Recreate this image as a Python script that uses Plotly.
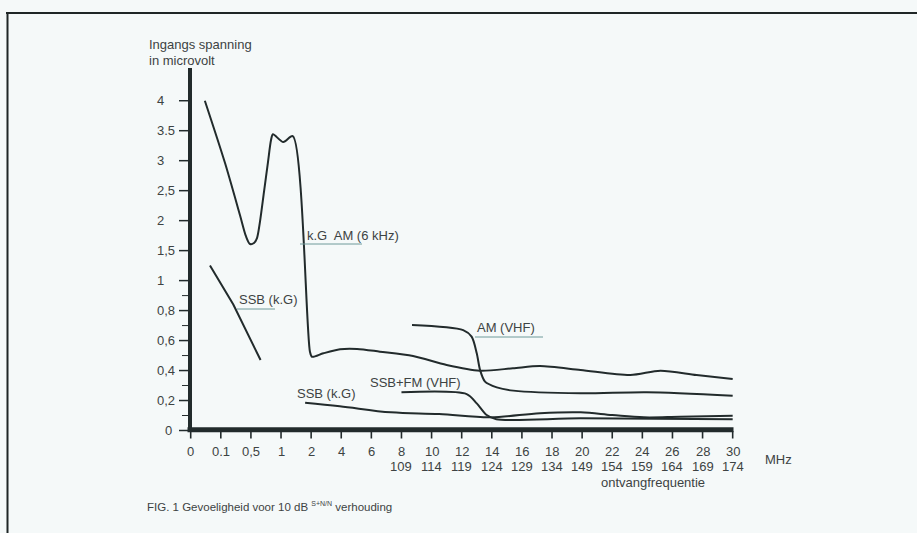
import numpy as np
import plotly.graph_objects as go

W, H = 917, 533

# ---- axis ticks: frequency (MHz) along the bottom, input voltage (microvolt) up the side
x_tick_mhz = [0, 0.1, 0.5, 1, 2, 4, 6, 8, 10, 12, 14, 16, 18, 20, 22, 24, 26, 28, 30]
x_tick_text = ["0", "0.1", "0,5", "1", "2", "4", "6", "8", "10", "12", "14", "16",
               "18", "20", "22", "24", "26", "28", "30"]
# VHF scale printed under the ticks 8 ... 30
vhf_tick_text = ["109", "114", "119", "124", "129", "134", "149", "154", "159", "164", "169", "174"]
y_tick_uv = [0, 0.2, 0.4, 0.6, 0.8, 1, 1.5, 2, 2.5, 3, 3.5, 4]
y_tick_text = ["0", "0,2", "0,4", "0,6", "0,8", "1", "1,5", "2", "2,5", "3", "3.5", "4"]
y_minor_uv = [0.1, 0.3, 0.5, 0.7, 0.9]

# ---- sensitivity curves (x in MHz on the HF scale, y in microvolt)
kg_am_mhz = [0.047, 0.156, 0.355, 0.434, 0.488, 0.551, 0.601, 0.65, 0.717, 0.784, 0.834, 0.866,
             1.075, 1.39, 1.96, 2.06, 2.81, 3.92, 5.05, 6.57, 8.77, 11.0, 13.2,
             15.4, 17.2, 19.9, 23.2, 25.2, 27.6, 30.0]
kg_am_uv = [4.0, 2.96, 2.09, 1.74, 1.61, 1.627, 1.71, 1.98, 2.48, 2.98, 3.345, 3.44,
            3.31, 3.41, 0.526, 0.492, 0.515, 0.542, 0.544, 0.526, 0.497, 0.437, 0.399,
            0.415, 0.43, 0.404, 0.370, 0.399, 0.370, 0.344]

ssb_lf_mhz = [0.064, 0.266, 0.66]
ssb_lf_uv = [1.25, 0.84, 0.47]

ssb_hf_mhz = [1.8, 3.9, 7.3, 10.5, 13.9, 17.2, 19.9, 22.0, 24.1, 26.5, 30.0]
ssb_hf_uv = [0.185, 0.162, 0.121, 0.110, 0.088, 0.115, 0.121, 0.103, 0.088, 0.092, 0.099]

am_vhf_mhz = [8.7, 12.1, 12.66, 13.0, 13.22, 13.55, 14.33, 15.43, 19.9, 24.3, 30.0]
am_vhf_uv = [0.704, 0.670, 0.626, 0.515, 0.404, 0.326, 0.288, 0.266, 0.248, 0.255, 0.232]

ssbfm_vhf_mhz = [8.0, 12.33, 13.0, 13.66, 14.3, 19.9, 30.0]
ssbfm_vhf_uv = [0.255, 0.243, 0.181, 0.103, 0.075, 0.081, 0.075]


# The printed scales are piecewise linear: every tick is one equal step.
def xpos(v):
    return np.interp(v, x_tick_mhz, np.arange(len(x_tick_mhz)))


def ypos(v):
    return np.interp(v, y_tick_uv, np.arange(len(y_tick_uv)))


# ---- page geometry (pixels)
PL, PR, PT, PB = 174, 738, 66, 442
X_STEP, Y_STEP = 30.11, 29.98
X0_PX, Y0_PX = 190.7, 430.5


def ix(px):      # pixel column -> axis step units
    return (px - X0_PX) / X_STEP


def iy(py):      # pixel row -> axis step units
    return (Y0_PX - py) / Y_STEP


x_range = [ix(PL), ix(PR)]
y_range = [iy(PB), iy(PT)]


def px_x(px):
    return (px - PL) / (PR - PL)


def px_y(py):
    return (PB - py) / (PB - PT)


INK = "#222b2c"
TXT = "#3d4343"
FONT = "Liberation Sans"
BG = "#f5f9f9"

fig = go.Figure()


def add_line(xs, ys, width=2, shape="linear", smooth=None):
    line = dict(color=INK, width=width, shape=shape)
    if smooth is not None:
        line["smoothing"] = smooth
    fig.add_trace(go.Scatter(x=xs, y=ys, mode="lines", line=line,
                             hoverinfo="skip", showlegend=False))


# ---- curves
add_line(xpos(kg_am_mhz), ypos(kg_am_uv), shape="spline", smooth=0.8)
add_line(xpos(ssb_lf_mhz), ypos(ssb_lf_uv))
add_line(xpos(ssb_hf_mhz), ypos(ssb_hf_uv), shape="spline", smooth=1.0)
add_line(xpos(am_vhf_mhz), ypos(am_vhf_uv), shape="spline", smooth=0.8)
add_line(xpos(ssbfm_vhf_mhz), ypos(ssbfm_vhf_uv), shape="spline", smooth=0.8)

shapes = []


def bar(x0, x1, y0, y1, xref="paper", yref="paper"):
    shapes.append(dict(type="rect", xref=xref, yref=yref, x0=x0, x1=x1, y0=y0, y1=y1,
                       fillcolor=INK, line=dict(width=0), layer="above"))


# ---- heavy axis rules and tick marks, drawn as filled bars
bar(px_x(187.5), px_x(733.5), px_y(432.3), px_y(427.3))      # frequency axis
bar(px_x(188), px_x(192), px_y(432), px_y(68))              # voltage axis
for i in range(len(x_tick_mhz)):
    bar(i - 0.8 / X_STEP, i + 0.8 / X_STEP, px_y(438.5), px_y(431), xref="x")
for v in y_tick_uv:
    yv = float(ypos(v))
    bar(px_x(179), px_x(188), yv - 0.75 / Y_STEP, yv + 0.75 / Y_STEP, yref="y")
for v in y_minor_uv:
    yv = float(ypos(v))
    bar(px_x(182), px_x(188), yv - 0.5 / Y_STEP, yv + 0.5 / Y_STEP, yref="y")

annotations = []

# y tick labels, set flush left as printed
for val, txt in zip(y_tick_uv, y_tick_text):
    py = Y0_PX - ypos(val) * Y_STEP
    if txt == "0":
        annotations.append(dict(x=px_x(174), y=px_y(py), text=txt, xanchor="right"))
    else:
        annotations.append(dict(x=px_x(155), y=px_y(py), text=txt, xanchor="left"))

# x tick labels: MHz row, then the VHF row under the ticks 8 ... 30
for i, txt in enumerate(x_tick_text):
    px = X0_PX + xpos(x_tick_mhz[i]) * X_STEP
    annotations.append(dict(x=px_x(px), y=px_y(451.5), text=txt, xanchor="center"))
for i, txt in enumerate(vhf_tick_text):
    px = X0_PX + xpos(x_tick_mhz[7 + i]) * X_STEP
    annotations.append(dict(x=px_x(px), y=px_y(466.5), text=txt, xanchor="center"))

# axis titles and caption
annotations += [
    dict(x=px_x(147), y=px_y(45), text="Ingangs spanning", xanchor="left"),
    dict(x=px_x(147), y=px_y(60), text="in microvolt", xanchor="left"),
    dict(x=px_x(763), y=px_y(459), text="MHz", xanchor="left"),
    dict(x=px_x(653), y=px_y(482), text="ontvangfrequentie", xanchor="center"),
    dict(x=px_x(145), y=px_y(506),
         text="FIG. 1 Gevoeligheid voor 10 dB <sup><span style='font-size:7px'>S+N/N</span></sup> verhouding",
         xanchor="left", font=dict(size=11.5, color=TXT, family=FONT)),
]

# curve labels with their underlines: (text, left px, centre y px, underline from, to, y)
curve_labels = [
    ("k.G  AM (6 kHz)", 305, 235, 300, 362, 244),
    ("SSB (k.G)", 237, 299, 237, 275, 309),
    ("AM (VHF)", 475, 327, 475, 543, 337),
    ("SSB+FM (VHF)", 368, 382, None, None, None),
    ("SSB (k.G)", 295, 393, None, None, None),
]
for txt, lx, cy, u0, u1, uy in curve_labels:
    annotations.append(dict(x=px_x(lx), y=px_y(cy), text=txt, xanchor="left"))
    if u0 is not None:
        shapes.append(dict(type="line", xref="paper", yref="paper",
                           x0=px_x(u0), x1=px_x(u1), y0=px_y(uy), y1=px_y(uy),
                           line=dict(color="#6f9a9a", width=1)))

for a in annotations:
    a.setdefault("font", dict(size=13, color=TXT, family=FONT))
    a.update(xref="paper", yref="paper", showarrow=False, yanchor="middle")

# page frame (top and left rules)
shapes += [
    dict(type="line", xref="paper", yref="paper", x0=px_x(6), x1=px_x(917),
         y0=px_y(13), y1=px_y(13), line=dict(color="#1f2626", width=2)),
    dict(type="line", xref="paper", yref="paper", x0=px_x(7.5), x1=px_x(7.5),
         y0=px_y(13), y1=px_y(533), line=dict(color="#1f2626", width=2)),
]

fig.update_layout(
    width=W, height=H,
    margin=dict(l=PL, r=W - PR, t=PT, b=H - PB, pad=0),
    paper_bgcolor=BG, plot_bgcolor=BG,
    font=dict(family=FONT, size=13, color=TXT),
    annotations=annotations, shapes=shapes,
    xaxis=dict(range=x_range, visible=False),
    yaxis=dict(range=y_range, visible=False),
)

fig.write_html("out.html")
